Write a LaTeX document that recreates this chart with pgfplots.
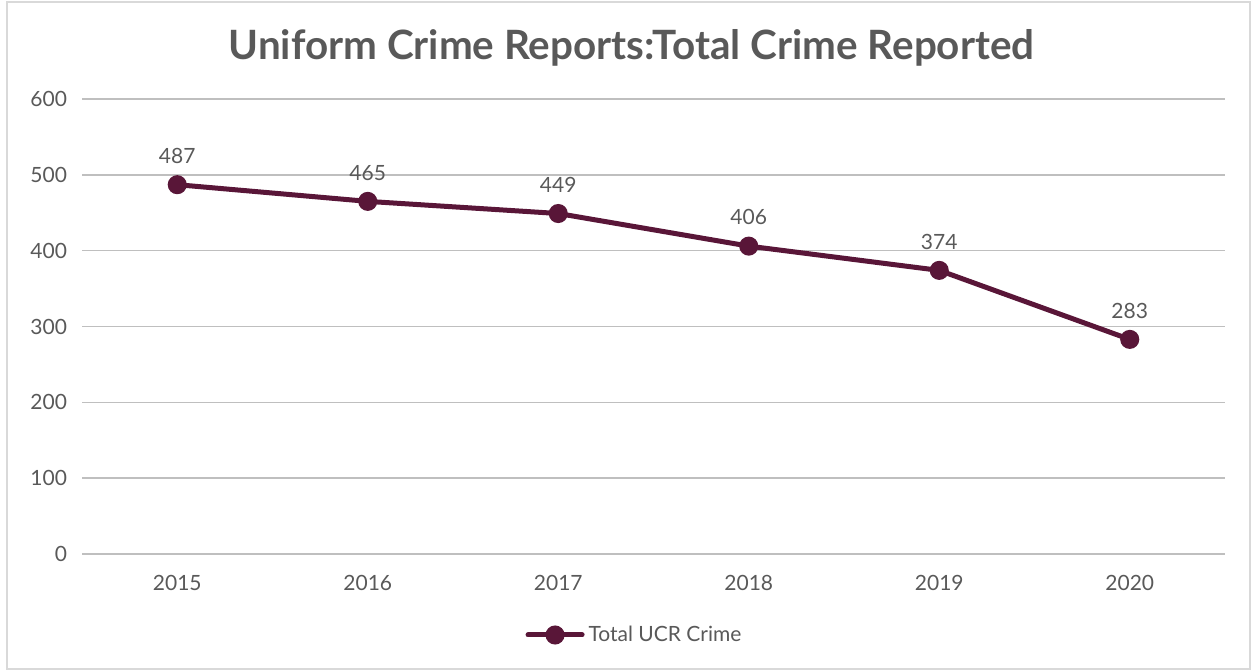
\documentclass[border=0pt]{standalone}
\usepackage{pgfplots}
\pgfplotsset{compat=1.18}
\usepackage{fontspec}
\setmainfont{Lato}
\definecolor{maroon}{RGB}{89,22,56}
\definecolor{txt}{RGB}{89,89,89}
\definecolor{grid}{RGB}{217,217,217}
\begin{document}
\begin{tikzpicture}
\path[use as bounding box] (0,0) rectangle (626.5pt,335.5pt);
\draw[grid, line width=0.75pt] (3.5pt,1pt) rectangle (625pt,334.5pt);
\begin{axis}[
  at={(41pt,58.5pt)}, anchor=south west,
  scale only axis, width=571.5pt, height=227.5pt,
  xmin=-0.5, xmax=5.5, ymin=0, ymax=600,
  xtick={0,...,5}, xticklabels={2015,2016,2017,2018,2019,2020},
  ytick={0,100,...,600},
  axis line style={draw=none},
  tick style={draw=none},
  xmajorgrids=false,
  ymajorgrids, grid style={grid, line width=0.75pt},
  /pgf/number format/assume math mode=true,
  ticklabel style={font=\fontsize{10.5}{12}\selectfont, text=txt},
  yticklabel style={anchor=east, xshift=-4pt},
  xticklabel style={yshift=-7pt},
  title={Uniform Crime Reports:Total Crime Reported},
  title style={font=\fontsize{20.2}{24}\selectfont\bfseries, text=txt, at={(0.5,1.086)}, anchor=center, xshift=-11pt},
  nodes near coords,
  every node near coord/.append style={font=\fontsize{10.5}{12}\selectfont, text=txt, yshift=6pt},
  legend style={at={(0.5,-0.178)}, anchor=center, xshift=-9pt, draw=none, font=\fontsize{10.5}{12}\selectfont, text=txt, legend cell align=left},
  legend image code/.code={
    \draw[maroon, line width=2.5pt, line cap=round] (0cm,0cm) -- (0.95cm,0cm);
    \fill[maroon] (0.475cm,0cm) circle (3.5pt);
  },
]
\addplot[color=maroon, line width=2.5pt, mark=*, mark size=3.5pt, mark options={fill=maroon, draw=maroon}]
  coordinates {(0,487) (1,465) (2,449) (3,406) (4,374) (5,283)};
\addlegendentry{Total UCR Crime}
\end{axis}
\end{tikzpicture}
\end{document}
